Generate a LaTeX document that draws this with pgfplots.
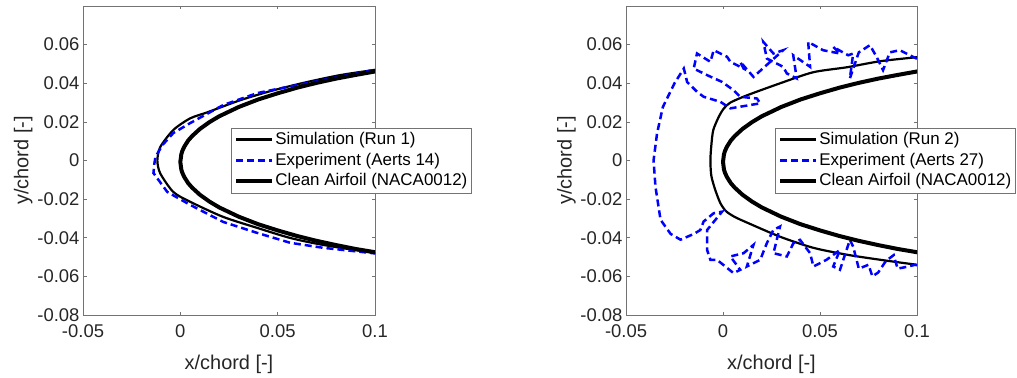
\documentclass[border=0pt]{standalone}
\usepackage{pgfplots}
\pgfplotsset{compat=1.18}
\usepackage{fontspec}
\setmainfont{Liberation Sans}
\definecolor{mblue}{rgb}{0,0,1}
\pgfplotsset{
 mystyle/.style={
  scale only axis, height=309bp,
  xmin=-0.05, xmax=0.1, ymin=-0.08, ymax=0.08,
  xtick={-0.05,0,0.05,0.1}, xticklabels={-0.05,0,0.05,0.1},
  ytick={-0.08,-0.06,-0.04,-0.02,0,0.02,0.04,0.06},
  yticklabels={-0.08,-0.06,-0.04,-0.02,0,0.02,0.04,0.06},
  scaled ticks=false,
  tick align=inside, major tick length=3.5bp,
  axis line style={black!55, line width=0.6bp},
  every tick/.style={black!55, line width=0.6bp},
  tick label style={font=\fontsize{18.5}{21}\selectfont, text=black!85},
  xticklabel style={yshift=-6bp},
  label style={font=\fontsize{20}{24}\selectfont, text=black!85},
  xlabel={x/chord [-]}, ylabel={y/chord [-]},
  xlabel style={at={(axis description cs:0.5,-0.159)}, anchor=center},
  ylabel style={at={(axis description cs:-0.205,0.5)}, anchor=center},
  legend style={anchor=west, draw=black!55, line width=0.6bp, inner xsep=3bp, inner ysep=1bp,
    font=\fontsize{17}{20}\selectfont, text=black,
    nodes={inner xsep=1bp, inner ysep=1.5bp, text height=13.5bp, text depth=4.5bp},
    row sep=0pt},
  legend cell align=left,
  legend image code/.code={\draw[#1] (0bp,0bp) -- (36bp,0bp);},
 },
 sim/.style={black, line width=2.2bp, line join=round, smooth, tension=0.45},
 exp/.style={mblue, line width=2.5bp, dash pattern=on 7bp off 4bp},
 clean/.style={black, line width=4bp, line join=round},
}
\begin{document}
\begin{tikzpicture}
\useasboundingbox (0,0) rectangle (1017bp,378bp);
% ---------- left panel ----------
\begin{axis}[mystyle, width=292bp, at={(83bp,63bp)}, anchor=south west,
  legend style={at={(0.507,0.5)}}]
\addplot[sim] coordinates {
(0.11,0.0485) (0.099,0.0468) (0.082,0.0442) (0.065,0.0406) (0.048,0.0364)
(0.031,0.0313) (0.014,0.0250) (0.005,0.0218) (-0.0036,0.0158) (-0.0103,0.0070)
(-0.0118,0.0) (-0.0103,-0.0067) (-0.0036,-0.0163) (0.0051,-0.0214) (0.022,-0.0292)
(0.0395,-0.0349) (0.0564,-0.0401) (0.0733,-0.0437) (0.099,-0.0478) (0.11,-0.0492)};
\addlegendentry{Simulation (Run 1)}
\addplot[exp] coordinates {
(0.11,0.0485) (0.099,0.0468) (0.07,0.0410) (0.0477,0.0366) (0.0395,0.0349)
(0.022,0.0287) (0.0051,0.0194) (-0.0036,0.0142) (-0.0092,0.0080) (-0.0128,0.0018)
(-0.0134,-0.0020) (-0.0138,-0.0065) (-0.0067,-0.0163) (0.0051,-0.0230) (0.022,-0.0318)
(0.0395,-0.0375) (0.0564,-0.0426) (0.0733,-0.0452) (0.099,-0.0480) (0.11,-0.0492)};
\addlegendentry{Experiment (Aerts 14)}
\addplot[clean] coordinates {
(0.11,0.0477) (0.10,0.0461) (0.09,0.0443) (0.08,0.0424) (0.07,0.0402) (0.06,0.0377)
(0.05,0.0348) (0.04,0.0316) (0.03,0.0277) (0.02,0.0229) (0.015,0.0199) (0.01,0.0163)
(0.006,0.0126) (0.004,0.0103) (0.002,0.0071) (0.001,0.0049) (0.0005,0.0032) (0,-0.0007)
(0.0005,-0.0047) (0.001,-0.0063) (0.002,-0.0085) (0.004,-0.0117) (0.006,-0.0140)
(0.01,-0.0177) (0.015,-0.0213) (0.02,-0.0243) (0.03,-0.0291) (0.04,-0.0330)
(0.05,-0.0362) (0.06,-0.0391) (0.07,-0.0416) (0.08,-0.0438) (0.09,-0.0458)
(0.10,-0.0475) (0.11,-0.0491)};
\addlegendentry{Clean Airfoil (NACA0012)}
\end{axis}
% ---------- right panel ----------
\begin{axis}[mystyle, width=291bp, at={(626bp,63bp)}, anchor=south west,
  legend style={at={(0.512,0.5)}}]
\addplot[sim] coordinates {
(0.11,0.0545) (0.1,0.0535) (0.081,0.0514) (0.064,0.0483) (0.0465,0.0457)
(0.0295,0.0400) (0.0125,0.0338) (0.0038,0.0300) (0.0005,0.0270) (-0.0020,0.0230) (-0.005,0.0158)
(-0.006,0.0080) (-0.0065,0.0) (-0.006,-0.0080) (-0.004,-0.0152) (-0.0014,-0.0220) (0.0015,-0.0262)
(0.0060,-0.0292) (0.0125,-0.0322) (0.0295,-0.0395) (0.0465,-0.0452) (0.064,-0.0488)
(0.081,-0.0514) (0.1,-0.0540) (0.11,-0.0552)};
\addlegendentry{Simulation (Run 2)}
\addplot[exp] coordinates {
(0.1050,0.0500) (0.0997,0.0528) (0.0911,0.0571) (0.0860,0.0560) (0.0825,0.0468)
(0.0790,0.0540) (0.0757,0.0597) (0.0700,0.0560) (0.0654,0.0425) (0.0671,0.0554)
(0.0645,0.0545) (0.0568,0.0588) (0.0603,0.0554) (0.0516,0.0571) (0.0439,0.0614)
(0.0449,0.0485) (0.0362,0.0545) (0.0380,0.0425) (0.0329,0.0451) (0.0310,0.0485)
(0.0226,0.0528) (0.0208,0.0614) (0.0260,0.0554) (0.0310,0.0571) (0.0157,0.0433)
(0.0089,0.0511) (0.0106,0.0476) (0.0038,0.0511) (0.0021,0.0537) (-0.0048,0.0571)
(-0.0065,0.0511) (-0.0134,0.0554) (-0.0151,0.0476) (-0.0082,0.0442) (-0.0005,0.0407)
(0.0054,0.0364) (0.0089,0.0330) (0.0175,0.0321) (0.0192,0.0296) (0.0038,0.0270)
(-0.0014,0.0304) (-0.0100,0.0330) (-0.0134,0.0356) (-0.0185,0.0407) (-0.0202,0.0476)
(-0.0250,0.0400) (-0.0310,0.0277) (-0.0340,0.0140) (-0.0358,0.0000) (-0.0348,-0.0137)
(-0.0322,-0.0307) (-0.0270,-0.0380) (-0.0219,-0.0410) (-0.0150,-0.0380) (-0.0117,-0.0360)
(-0.0100,-0.0316) (-0.0048,-0.0273) (-0.0005,-0.0265) (-0.0082,-0.0360) (-0.0082,-0.0463)
(-0.0065,-0.0514) (-0.0031,-0.0514) (0.0054,-0.0583) (0.0089,-0.0566) (0.0038,-0.0497)
(0.0106,-0.0480) (0.0157,-0.0437) (0.0123,-0.0549) (0.0192,-0.0514) (0.0226,-0.0428)
(0.0260,-0.0359) (0.0294,-0.0342) (0.0260,-0.0480) (0.0329,-0.0497) (0.0363,-0.0428)
(0.0397,-0.0411) (0.0449,-0.0480) (0.0466,-0.0549) (0.0534,-0.0514) (0.0603,-0.0463)
(0.0568,-0.0549) (0.0603,-0.0566) (0.0654,-0.0411) (0.0671,-0.0446) (0.0690,-0.0520)
(0.0700,-0.0560) (0.0750,-0.0540) (0.0770,-0.0600) (0.0800,-0.0580) (0.0840,-0.0520)
(0.0880,-0.0490) (0.0900,-0.0560) (0.0950,-0.0550) (0.0990,-0.0540) (0.1050,-0.0560)};
\addlegendentry{Experiment (Aerts 27)}
\addplot[clean] coordinates {
(0.11,0.0477) (0.10,0.0461) (0.09,0.0443) (0.08,0.0424) (0.07,0.0402) (0.06,0.0377)
(0.05,0.0348) (0.04,0.0316) (0.03,0.0277) (0.02,0.0229) (0.015,0.0199) (0.01,0.0163)
(0.006,0.0126) (0.004,0.0103) (0.002,0.0071) (0.001,0.0049) (0.0005,0.0032) (0,-0.0007)
(0.0005,-0.0047) (0.001,-0.0063) (0.002,-0.0085) (0.004,-0.0117) (0.006,-0.0140)
(0.01,-0.0177) (0.015,-0.0213) (0.02,-0.0243) (0.03,-0.0291) (0.04,-0.0330)
(0.05,-0.0362) (0.06,-0.0391) (0.07,-0.0416) (0.08,-0.0438) (0.09,-0.0458)
(0.10,-0.0475) (0.11,-0.0491)};
\addlegendentry{Clean Airfoil (NACA0012)}
\end{axis}
\end{tikzpicture}
\end{document}
